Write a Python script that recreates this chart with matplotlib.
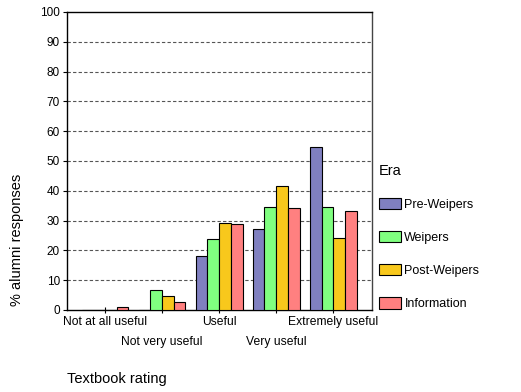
import numpy as np
import matplotlib.pyplot as plt
from matplotlib.patches import Patch

plt.rcParams['font.family'] = ['Liberation Sans', 'DejaVu Sans']

# values
categories = ['Not at all useful', 'Not very useful', 'Useful', 'Very useful', 'Extremely useful']
eras = ['Pre-Weipers', 'Weipers', 'Post-Weipers', 'Information']
pre = [0, 0, 18.2, 27.1, 54.6]
weipers = [0, 6.6, 23.9, 34.7, 34.7]
post = [0, 4.8, 29.2, 41.5, 24.3]
info = [0.9, 2.6, 28.7, 34.2, 33.3]
colors = ['#8080c0', '#80ff80', '#f8c81c', '#ff8080']

fig = plt.figure(figsize=(5.21, 3.92), dpi=100)
ax = fig.add_axes([0.1286, 0.2092, 0.5854, 0.7602])

x = np.arange(len(categories))
w = 0.205
series = [pre, weipers, post, info]
for i, vals in enumerate(series):
    ax.bar(x + (i - 1.5) * w, vals, width=w, color=colors[i],
           edgecolor='black', linewidth=0.8, zorder=3)

ax.set_xlim(-0.667, 4.68)
ax.set_ylim(0, 100)
ax.set_yticks(np.arange(0, 101, 10))
for yv in range(10, 100, 10):
    ax.axhline(yv, color='#555555', linestyle=(0, (3, 2)), linewidth=0.8, zorder=1)

# staggered category labels
ax.set_xticks(x[::2])
ax.set_xticklabels(categories[::2])
ax.set_xticks(x[1::2], minor=True)
ax.set_xticklabels(categories[1::2], minor=True)
ax.tick_params(axis='x', which='major', direction='inout', length=5, width=0.8,
               labelsize=8.7, pad=2)
ax.tick_params(axis='x', which='minor', direction='inout', length=5, width=0.8,
               labelsize=8.7, pad=16)
ax.tick_params(axis='y', direction='out', length=3, width=0.8, labelsize=8.5, pad=2)

for s in ax.spines.values():
    s.set_linewidth(1.0)
ax.spines['right'].set_color('#444444')

fig.text(17 / 521, (392 - 240) / 392, '% alumni responses', rotation=90,
         va='center', ha='center', fontsize=10.5)
fig.text(67 / 521, (392 - 379) / 392, 'Textbook rating', va='center', ha='left',
         fontsize=10.5)

handles = [Patch(facecolor=c, edgecolor='black', linewidth=0.8) for c in colors]
leg = fig.legend(handles, eras, title='Era', loc='upper left',
                 bbox_to_anchor=(370 / 521, (392 - 155) / 392), frameon=False,
                 fontsize=9, title_fontsize=10.5, handlelength=1.75, handleheight=1.05,
                 handletextpad=0.3, labelspacing=1.6, borderpad=0.2)
leg._legend_box.align = 'left'

fig.savefig('out.png', dpi=100)
